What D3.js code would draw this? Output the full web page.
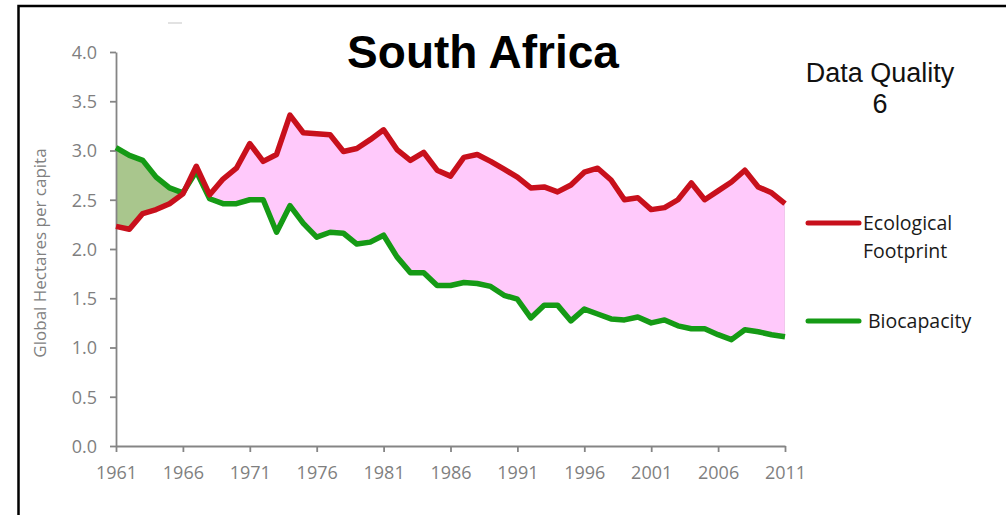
<!DOCTYPE html>
<html lang="en">
<head>
  <meta charset="UTF-8">
  <script src="https://d3js.org/d3.v7.min.js"></script>
  <title>South Africa</title>
  <style>
    body { margin: 0; background: #fff; }
  </style>
</head>
<body>
  <svg width="1006" height="515"></svg>

  <script>
    // data (global hectares per capita)
    var years = d3.range(1961, 2012)
    var footprint = [
      2.23, 2.20, 2.36, 2.40, 2.46, 2.56, 2.84, 2.55, 2.71, 2.82,
      3.07, 2.89, 2.96, 3.36, 3.18, 3.17, 3.16, 2.99, 3.02, 3.11,
      3.21, 3.01, 2.90, 2.98, 2.80, 2.74, 2.93, 2.96, 2.89, 2.81,
      2.73, 2.62, 2.63, 2.58, 2.65, 2.78, 2.82, 2.70, 2.50, 2.52,
      2.40, 2.42, 2.50, 2.67, 2.50, 2.59, 2.68, 2.80, 2.63, 2.57,
      2.46
    ]
    var biocapacity = [
      3.03, 2.95, 2.90, 2.73, 2.62, 2.57, 2.79, 2.51, 2.46, 2.46,
      2.50, 2.50, 2.17, 2.44, 2.26, 2.12, 2.17, 2.16, 2.05, 2.07,
      2.14, 1.92, 1.76, 1.76, 1.63, 1.63, 1.66, 1.65, 1.62, 1.53,
      1.49, 1.30, 1.43, 1.43, 1.27, 1.39, 1.34, 1.29, 1.28, 1.31,
      1.25, 1.28, 1.22, 1.19, 1.19, 1.13, 1.08, 1.18, 1.16, 1.13,
      1.11
    ]
    var xTicks = [1961, 1966, 1971, 1976, 1981, 1986, 1991, 1996, 2001, 2006, 2011]
    var yTicks = [0, 0.5, 1, 1.5, 2, 2.5, 3, 3.5, 4]
    var legendItems = [
      { lines: ["Ecological", "Footprint"], color: "#c8101c" },
      { lines: ["Biocapacity"], color: "#159a15" }
    ]

    var rows = years.map(function(yr, i){
      return { year: yr, ef: footprint[i], bc: biocapacity[i] }
    })

    var svg = d3.select("svg")
    var plot = { left: 116, right: 785, top: 52, bottom: 446 }

    var x = d3.scaleLinear().domain([1961, 2011]).range([plot.left, plot.right])
    var y = d3.scaleLinear().domain([0, 4]).range([plot.bottom, plot.top])

    // frame
    svg.append("rect")
      .attr("x", 18.5).attr("y", 6)
      .attr("width", 1000).attr("height", 600)
      .attr("fill", "none")
      .attr("stroke", "#000")
      .attr("stroke-width", 2.5)
    svg.append("line")
      .attr("x1", 168).attr("x2", 182).attr("y1", 23).attr("y2", 23)
      .attr("stroke", "#d8d8d8").attr("stroke-width", 1.5)

    // clip regions above / below the biocapacity line
    var defs = svg.append("defs")
    defs.append("clipPath").attr("id", "above")
      .append("path")
      .attr("d", d3.area()
        .x(function(d){ return x(d.year) })
        .y0(0)
        .y1(function(d){ return y(d.bc) })(rows))
    defs.append("clipPath").attr("id", "below")
      .append("path")
      .attr("d", d3.area()
        .x(function(d){ return x(d.year) })
        .y0(515)
        .y1(function(d){ return y(d.bc) })(rows))

    var band = d3.area()
      .x(function(d){ return x(d.year) })
      .y0(function(d){ return y(d.bc) })
      .y1(function(d){ return y(d.ef) })

    svg.append("path")
      .attr("d", band(rows))
      .attr("fill", "#ffc9fb")
      .attr("stroke", "#d9c4d6")
      .attr("stroke-width", 0.8)
      .attr("clip-path", "url(#above)")
    svg.append("path")
      .attr("d", band(rows))
      .attr("fill", "#a9c68d")
      .attr("clip-path", "url(#below)")

    // axes
    var yAxis = svg.append("g")
      .attr("transform", "translate(" + plot.left + ",0)")
      .call(d3.axisLeft(y).tickValues(yTicks).tickFormat(d3.format(".1f"))
        .tickSize(6).tickSizeOuter(0).tickPadding(13))
    var xAxis = svg.append("g")
      .attr("transform", "translate(0," + plot.bottom + ")")
      .call(d3.axisBottom(x).tickValues(xTicks).tickFormat(d3.format("d"))
        .tickSize(6).tickSizeOuter(0).tickPadding(14))

    svg.selectAll(".domain, .tick line")
      .attr("stroke", "#858585")
      .attr("stroke-width", 1.8)
    svg.selectAll(".tick text")
      .attr("fill", "#7f7f7f")
      .style("font-family", "'Open Sans', sans-serif")
      .style("font-size", "18px")
    yAxis.selectAll(".tick text").attr("dy", "0.36em")

    // lines
    var line = function(key){
      return d3.line()
        .x(function(d){ return x(d.year) })
        .y(function(d){ return y(d[key]) })
    }
    svg.append("path")
      .attr("d", line("bc")(rows))
      .attr("fill", "none")
      .attr("stroke", legendItems[1].color)
      .attr("stroke-width", 5.5)
      .attr("stroke-linejoin", "round")
    svg.append("path")
      .attr("d", line("ef")(rows))
      .attr("fill", "none")
      .attr("stroke", legendItems[0].color)
      .attr("stroke-width", 5.5)
      .attr("stroke-linejoin", "round")

    // y axis title
    svg.append("text")
      .attr("transform", "translate(46,253) rotate(-90)")
      .attr("text-anchor", "middle")
      .attr("fill", "#808080")
      .style("font-family", "'Open Sans', sans-serif")
      .style("font-size", "17px")
      .text("Global Hectares per capita")

    // titles
    svg.append("text")
      .attr("x", 483).attr("y", 68)
      .attr("text-anchor", "middle")
      .style("font-family", "'Liberation Sans', Arial, sans-serif")
      .style("font-weight", "bold")
      .style("font-size", "46px")
      .text("South Africa")
    var dq = svg.append("text")
      .attr("text-anchor", "middle")
      .attr("fill", "#111")
      .style("font-family", "'Liberation Sans', Arial, sans-serif")
      .style("font-size", "27px")
    dq.append("tspan").attr("x", 880).attr("y", 82).text("Data Quality")
    dq.append("tspan").attr("x", 880).attr("y", 113).text("6")

    // legend
    var legend = svg.append("g")
    var legendY = [223, 321]
    legendItems.forEach(function(item, i){
      legend.append("line")
        .attr("x1", 808).attr("x2", 859)
        .attr("y1", legendY[i]).attr("y2", legendY[i])
        .attr("stroke", item.color)
        .attr("stroke-width", 5)
        .attr("stroke-linecap", "round")
      var t = legend.append("text")
        .attr("fill", "#1a1a1a")
        .style("font-family", "'Open Sans', sans-serif")
        .style("font-size", "19.5px")
      item.lines.forEach(function(s, j){
        t.append("tspan")
          .attr("x", i === 0 ? 863 : 868)
          .attr("y", legendY[i] + 7 + j * 28)
          .text(s)
      })
    })
  </script>
</body>
</html>
